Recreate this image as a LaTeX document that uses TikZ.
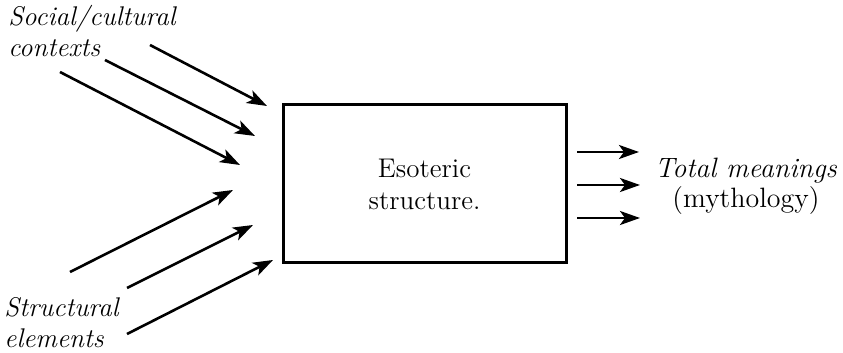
\documentclass[tikz,border=0pt]{standalone}
\usetikzlibrary{arrows.meta}
\begin{document}
\begin{tikzpicture}[x=0.5pt,y=-0.5pt,
  flow/.style={line width=1.3pt,-{Stealth[length=10pt,width=7pt,inset=2.5pt]}},
  lbl/.style={inner sep=0pt,font=\fontsize{13.5}{15.5}\selectfont\itshape},
  core/.style={draw,line width=1.5pt,minimum width=141.5pt,minimum height=79pt,
    align=center,font=\fontsize{13.5}{16}\selectfont}]
\useasboundingbox (0,0) rectangle (843,353);

% central block
\node[core] (box) at (424.5,184) {Esoteric\\structure.};

% labels
\node[lbl,anchor=north west,align=left] (social) at (8,5) {Social/cultural\\contexts};
\node[lbl,anchor=south west,align=left] (struct) at (4,348) {Structural\\elements};
\node[inner sep=0pt,align=center,font=\fontsize{14}{15}\selectfont] (total) at (746,186)
  {\textit{Total meanings}\\(mythology)};

% incoming arrows, upper set
\coordinate (s1a) at (150,45);  \coordinate (s1b) at (267,106);
\coordinate (s2a) at (105,60);  \coordinate (s2b) at (255,136);
\coordinate (s3a) at (60,72);   \coordinate (s3b) at (240,165);
% incoming arrows, lower set
\coordinate (e1a) at (70,272);  \coordinate (e1b) at (233,190);
\coordinate (e2a) at (127,288); \coordinate (e2b) at (253,225);
\coordinate (e3a) at (127,334); \coordinate (e3b) at (273,260);
% outgoing arrows
\coordinate (o1a) at (577,152); \coordinate (o1b) at (639,152);
\coordinate (o2a) at (577,185); \coordinate (o2b) at (640,185);
\coordinate (o3a) at (577,218); \coordinate (o3b) at (640,218);

\foreach \a/\b in {s1a/s1b,s2a/s2b,s3a/s3b,e1a/e1b,e2a/e2b,e3a/e3b,o1a/o1b,o2a/o2b,o3a/o3b}
  \draw[flow] (\a) -- (\b);
\end{tikzpicture}
\end{document}
